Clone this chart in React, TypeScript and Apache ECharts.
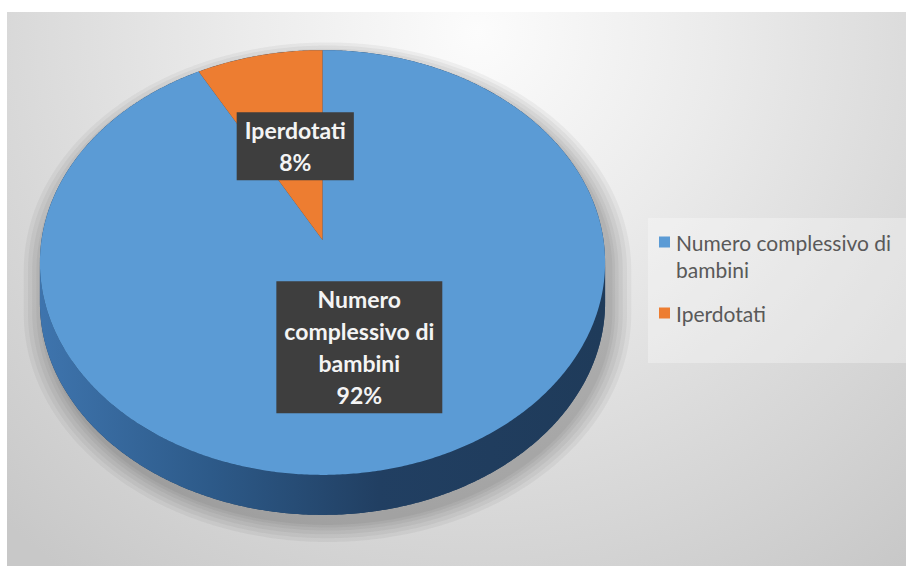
import React, { useEffect, useRef } from "react";
import * as echarts from "echarts";

// ---- data ----
const categories = ["Numero complessivo di bambini", "Iperdotati"];
const labelNames = ["Numero\ncomplessivo di\nbambini", "Iperdotati"];
const legendNames = ["Numero complessivo di\nbambini", "Iperdotati"];
const values = [92, 8];
const colors = ["#5b9bd5", "#ed7d31"];
const sideStops = [
  ["#3e74ad", "#2d5a89", "#213f62", "#1f3b5a"],
  ["#b85d22", "#9a4b19", "#7a3a12", "#6e340f"],
];

// ---- geometry (chart pixels) ----
const W = 899;
const H = 554;
const CX = 315.5;
const CY = 228;
const A = 281;
const B = 210;
const K = 0.106;
const DEPTH = 40;
const LABEL_F = 0.5;

function project(theta: number, f: number, dy: number): number[] {
  const u = Math.sin(theta) * f;
  const v = -Math.cos(theta) * f;
  const w = 1 - K * v;
  return [CX + (A * u) / w, CY + (B * v) / w + dy];
}

function arc(a0: number, a1: number, dy: number): number[][] {
  const pts: number[][] = [];
  const n = Math.max(2, Math.ceil(Math.abs(a1 - a0) / (Math.PI / 360)));
  for (let j = 0; j <= n; j++) {
    pts.push(project(a0 + ((a1 - a0) * j) / n, 1, dy));
  }
  return pts;
}

export default function App() {
  const ref = useRef<HTMLDivElement>(null);
  useEffect(() => {
    const chart = echarts.init(ref.current!, null, { renderer: "svg" });
    const total = values.reduce((a, b) => a + b, 0);
    const starts = values.map((_, i) => values.slice(0, i).reduce((a, b) => a + b, 0));
    const thR = Math.acos(-K);
    const thL = 2 * Math.PI - thR;

    const renderItem = (params: any, api: any) => {
      const i = params.dataIndex;
      const v = api.value(0);
      const a0 = (starts[i] / total) * 2 * Math.PI;
      const a1 = a0 + (v / total) * 2 * Math.PI;
      const children: any[] = [];
      if (i === 0) {
        const sil = arc(thL, thR + 2 * Math.PI, 0).concat(arc(thR, thL, DEPTH));
        const cyc = CY + DEPTH / 2;
        const halo = [1.075, 1.06, 1.045, 1.03, 1.018, 1.008];
        halo.forEach((s, h) => {
          children.push({
            type: "polygon",
            z2: -1 + h * 0.01,
            silent: true,
            shape: {
              points: sil.map((p) => [CX + (p[0] - CX) * s + 5, cyc + (p[1] - cyc) * s + 8]),
            },
            style: { fill: "rgba(0,0,0,0.045)" },
          });
        });
        children.push({
          type: "polygon",
          z2: 0,
          shape: { points: sil },
          style: { fill: "#203f60" },
        });
      }
      const s0 = Math.max(a0, thR);
      const s1 = Math.min(a1, thL);
      if (s1 > s0) {
        const st = sideStops[i];
        const side = arc(s0, s1, 0).concat(arc(s1, s0, DEPTH));
        children.push({
          type: "polygon",
          z2: 1,
          shape: { points: side },
          style: {
            fill: {
              type: "linear",
              global: true,
              x: CX - A,
              y: 0,
              x2: CX + A,
              y2: 0,
              colorStops: [
                { offset: 0, color: st[0] },
                { offset: 0.3, color: st[1] },
                { offset: 0.6, color: st[2] },
                { offset: 1, color: st[3] },
              ],
            },
          },
        });
      }
      const face = [[CX, CY]].concat(arc(a0, a1, 0));
      children.push({
        type: "polygon",
        z2: 2,
        shape: { points: face },
        style: { fill: colors[i] },
      });
      const mid = (a0 + a1) / 2;
      const lp = project(mid, LABEL_F, 0);
      const pct = Math.round((v / total) * 100);
      children.push({
        type: "text",
        z2: 10,
        x: lp[0] + (i === 1 ? 6 : 0),
        y: lp[1] + (i === 1 ? 3 : 0),
        style: {
          text: labelNames[i] + "\n" + pct + "%",
          fill: "#f4f4f4",
          fontFamily: "Lato",
          fontWeight: "bold",
          fontSize: 23,
          lineHeight: 32,
          align: "center",
          verticalAlign: "middle",
          backgroundColor: "#3e3e3e",
          padding: [2, 8, 2, 8],
          boxShadowBlur: 6,
          boxShadowColor: "rgba(0,0,0,0.5)",
          boxShadowOffsetX: 3,
          boxShadowOffsetY: 3,
        },
      });
      return { type: "group", children };
    };

    const legendItems: any[] = [];
    const legendRows = [230, 301];
    categories.forEach((_, i) => {
      legendItems.push({
        type: "rect",
        shape: { x: 652, y: legendRows[i] - 5.5, width: 11, height: 11 },
        style: { fill: colors[i] },
      });
      legendItems.push({
        type: "text",
        x: 669,
        y: legendRows[i] - 13.5,
        style: {
          text: legendNames[i],
          fill: "#595959",
          fontFamily: "Lato",
          fontSize: 21,
          lineHeight: 27,
          align: "left",
          verticalAlign: "top",
        },
      });
    });

    chart.setOption({
      animation: false,
      graphic: [
        {
          type: "rect",
          z: -10,
          silent: true,
          shape: { x: 0, y: 0, width: W, height: H },
          style: {
            fill: {
              type: "radial",
              global: true,
              x: 470,
              y: 20,
              r: 680,
              colorStops: [
                { offset: 0, color: "#fcfcfc" },
                { offset: 0.35, color: "#ebebeb" },
                { offset: 0.7, color: "#d8d8d8" },
                { offset: 1, color: "#c8c8c8" },
              ],
            },
          },
        },
        {
          type: "rect",
          z: -5,
          silent: true,
          shape: { x: 641, y: 206, width: 258, height: 145 },
          style: { fill: "rgba(255,255,255,0.3)" },
        },
        { type: "group", children: legendItems },
      ],
      series: [
        {
          type: "custom",
          coordinateSystem: "none",
          renderItem,
          data: values.map((v, i) => ({ name: categories[i], value: v })),
        },
      ],
    });
    return () => chart.dispose();
  }, []);
  return (
    <div
      ref={ref}
      style={{ position: "absolute", left: 7, top: 12, width: W, height: H }}
    />
  );
}
